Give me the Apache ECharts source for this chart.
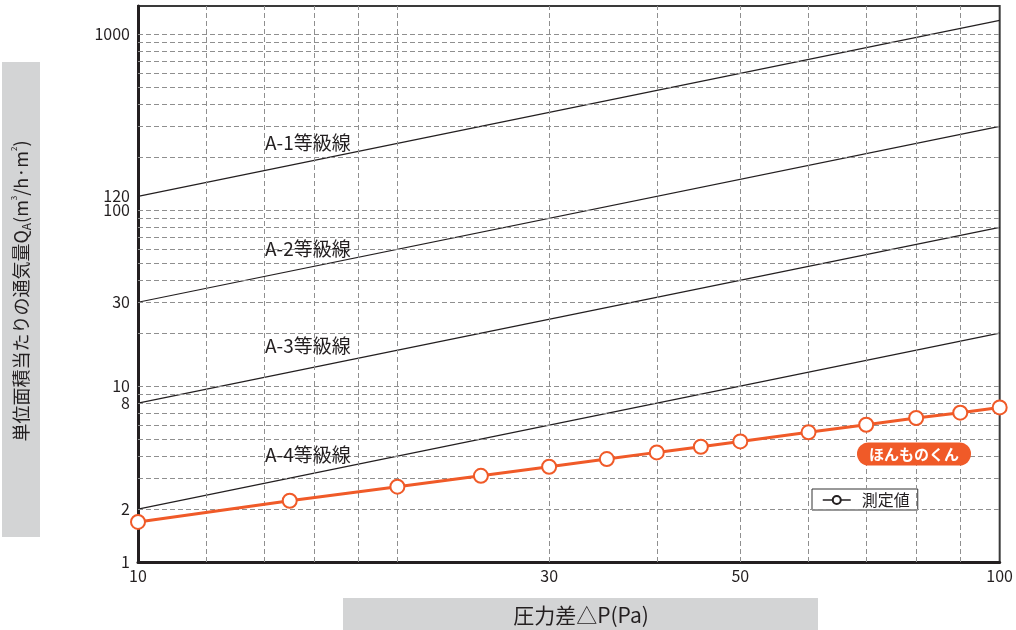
<!DOCTYPE html>
<html>
<head>
<meta charset="utf-8">
<script src="https://cdn.jsdelivr.net/npm/echarts@6/dist/echarts.min.js"></script>
<style>
html,body{margin:0;padding:0;background:#fff;}
#chart{width:1016px;height:630px;}
</style>
</head>
<body>
<div id="chart"></div>
<script>
// ---- data ----
const xTickLabels = [10, 30, 50, 100];
const yTickLabels = [1, 2, 8, 10, 30, 100, 120, 1000];
const xGridValues = [12, 14, 16, 18, 20, 30, 40, 50, 60, 70, 80, 90];
const yGridValues = [2, 3, 4, 5, 6, 7, 8, 9, 10, 20, 30, 40, 50, 60, 70, 80, 90, 100,
  200, 300, 400, 500, 600, 700, 800, 900, 1000];
const pressure = [10, 15, 20, 25, 30, 35, 40, 45, 50, 60, 70, 80, 90, 100];
const measured = [1.69, 2.23, 2.68, 3.09, 3.48, 3.85, 4.2, 4.52, 4.85, 5.46, 6.03, 6.59, 7.06, 7.57];
const gradeNames = ['A-1等級線', 'A-2等級線', 'A-3等級線', 'A-4等級線'];
const gradeAt10 = [120, 30, 8, 2];
const gradeAt100 = [1200, 300, 80, 20];
const seriesName = '測定値';
const productName = 'ほんものくん';
const xTitle = '圧力差△P(Pa)';

const FONT = '"Noto Sans CJK JP", "Noto Sans", sans-serif';
const ORANGE = '#f05a28';
const INK = '#231f20';
const chart = echarts.init(document.getElementById('chart'));

const gridLineStyle = { type: [5, 3], color: '#8f8f8f', width: 1 };

const series = [];
// grid lines as mark lines
series.push({
  type: 'line', name: '_grid', data: [], silent: true, z: 1,
  markLine: {
    silent: true, symbol: 'none', label: { show: false },
    lineStyle: gridLineStyle, animation: false,
    data: yGridValues.map(v => ({ yAxis: v })).concat(xGridValues.map(v => ({ xAxis: v })))
  }
});
gradeNames.forEach((n, i) => {
  series.push({
    type: 'line', name: n, silent: true, z: 2,
    data: [[10, gradeAt10[i]], [100, gradeAt100[i]]],
    symbol: 'none', lineStyle: { color: INK, width: 1.2 }
  });
});
series.push({
  type: 'line', name: seriesName, z: 5,
  data: pressure.map((p, i) => [p, measured[i]]),
  symbol: 'emptyCircle', symbolSize: 14,
  lineStyle: { color: ORANGE, width: 3 },
  itemStyle: { color: ORANGE, borderColor: ORANGE, borderWidth: 3 }
});

const gradeLabelY = [143, 249, 346, 455];

chart.setOption({
  animation: false,
  textStyle: { fontFamily: FONT },
  grid: { left: 138, right: 16, top: 6, bottom: 68, show: true, borderColor: '#3a3a3a', borderWidth: 2 },
  xAxis: {
    type: 'log', logBase: 10, min: 10, max: 100,
    axisLine: { show: true, onZero: false, lineStyle: { color: INK, width: 3 } },
    axisTick: { show: false },
    splitLine: { show: false },
    axisLabel: { customValues: xTickLabels, formatter: v => String(v), color: INK, fontSize: 16, margin: 6, fontFamily: FONT, showMinLabel: true, showMaxLabel: true }
  },
  yAxis: {
    type: 'log', logBase: 10, min: 1, max: 1450,
    axisLine: { show: true, onZero: false, lineStyle: { color: INK, width: 3 } },
    axisTick: { show: false },
    splitLine: { show: false },
    axisLabel: { customValues: yTickLabels, formatter: v => String(v), color: INK, fontSize: 16, margin: 8, fontFamily: FONT, showMinLabel: true, showMaxLabel: true }
  },
  legend: {
    data: [{ name: seriesName, itemStyle: { color: INK, borderColor: INK, borderWidth: 1.5 }, lineStyle: { color: INK, width: 1.5 } }],
    left: 812, top: 489, orient: 'horizontal',
    backgroundColor: '#fff', borderColor: '#333', borderWidth: 1, borderRadius: 0,
    padding: [3, 8, 2, 10], itemWidth: 28, itemHeight: 10, itemGap: 10,
    textStyle: { fontSize: 16, color: INK, fontFamily: FONT, padding: [0, 0, 0, 6] }
  },
  series: series,
  graphic: [
    // y-axis title box
    { type: 'rect', left: 2, top: 62, shape: { width: 38, height: 475 }, style: { fill: '#d3d4d5' }, z: 0 },
    { type: 'text', x: 21, y: 291, rotation: Math.PI / 2,
      style: {
        text: '単位面積当たりの通気量Q{sub|A}(m{sup|3}/h·m{sup|2})',
        font: '18px ' + FONT, fill: INK, align: 'center', verticalAlign: 'middle',
        rich: {
          sub: { fontSize: 12, fontFamily: FONT, fill: INK, verticalAlign: 'bottom', lineHeight: 22 },
          sup: { fontSize: 8, fontFamily: FONT, fill: INK, verticalAlign: 'top', lineHeight: 22 }
        }
      }, z: 1 },
    // x-axis title box
    { type: 'rect', left: 343, top: 598, shape: { width: 475, height: 34 }, style: { fill: '#d3d4d5' }, z: 0 },
    { type: 'text', x: 581, y: 615, style: { text: xTitle, font: '21px ' + FONT, fill: INK, align: 'center', verticalAlign: 'middle' }, z: 1 },
    // grade line labels
    ...gradeNames.map((n, i) => ({
      type: 'text', x: 265, y: gradeLabelY[i], z: 10,
      style: { text: n, font: '19px ' + FONT, fill: INK, align: 'left', verticalAlign: 'middle' }
    })),
    // product badge
    { type: 'text', x: 914, y: 454, z: 10,
      style: { text: productName, font: 'bold 15px ' + FONT, fill: '#fff', align: 'center', verticalAlign: 'middle',
        backgroundColor: ORANGE, borderRadius: 13, padding: [4, 12, 4, 12] } }
  ]
});
</script>
</body>
</html>
